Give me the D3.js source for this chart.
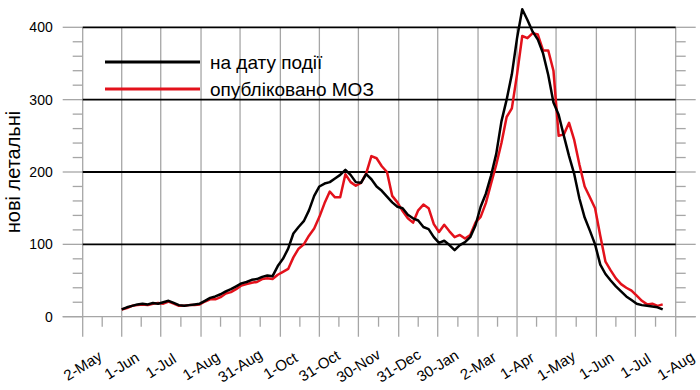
<!DOCTYPE html>
<html>
<head>
<meta charset="utf-8">
<script src="https://cdn.jsdelivr.net/npm/d3@7"></script>
<style>
  body { margin: 0; background: #fff; }
  text { font-family: "Liberation Sans", Arial, sans-serif; fill: #000; }
</style>
</head>
<body>
<div id="chart"></div>
<script>
// chart size
var svgWidth = 700;
var svgHeight = 390;

var margin = { top: 27.3, right: 24.3, bottom: 73.3, left: 82.7 };

var chartWidth = svgWidth - margin.left - margin.right;
var chartHeight = svgHeight - margin.top - margin.bottom;

// data: one value every 4 days, starting 1 Jun 2020
var startDate = "2020-06-01";
var stepDays = 4;

// на дату події
var byEventDate = [10, 13, 15, 17, 18, 17, 19, 18, 20, 22,
  19, 16, 15, 16, 17, 18, 22, 26, 28, 31,
  35, 38, 42, 46, 48, 51, 52, 55, 57, 56,
  70, 80, 94, 115, 124, 132, 147, 167, 180, 184,
  186, 191, 196, 203, 196, 186, 185, 197, 190, 180,
  174, 166, 158, 152, 150, 141, 136, 133, 124, 121,
  110, 102, 105, 99, 92, 99, 103, 110, 126, 152,
  170, 195, 225, 270, 300, 335, 385, 425, 410, 394,
  383, 364, 334, 296, 279, 250, 222, 197, 163, 137,
  119, 100, 72, 59, 50, 42, 35, 28, 23, 18,
  16, 15, 14, 13, 10];

// опубліковано МОЗ
var publishedMoh = [10, 12, 15, 16, 17, 16, 18, 19, 18, 21,
  18, 15, 15, 16, 16, 17, 21, 24, 24, 27,
  32, 34, 38, 43, 45, 47, 48, 52, 53, 52,
  58, 62, 66, 82, 94, 100, 112, 122, 138, 157,
  173, 165, 165, 197, 186, 181, 185, 198, 222, 219,
  208, 200, 167, 158, 146, 136, 130, 147, 155, 150,
  128, 117, 127, 118, 110, 113, 108, 113, 130, 138,
  157, 184, 210, 240, 276, 288, 335, 388, 385, 392,
  390, 368, 368, 340, 250, 252, 268, 244, 210, 180,
  165, 150, 112, 76, 64, 53, 45, 40, 36, 29,
  22, 17, 18, 15, 17];

var xTickLabels = ["2-May", "1-Jun", "1-Jul", "1-Aug", "31-Aug", "1-Oct", "31-Oct", "30-Nov",
  "31-Dec", "30-Jan", "2-Mar", "1-Apr", "1-May", "1-Jun", "1-Jul", "1-Aug"];
var xTickDates = ["2020-05-02", "2020-06-01", "2020-07-01", "2020-08-01", "2020-08-31", "2020-10-01",
  "2020-10-31", "2020-11-30", "2020-12-31", "2021-01-30", "2021-03-02", "2021-04-01",
  "2021-05-01", "2021-06-01", "2021-07-01", "2021-08-01"];
var yTicks = [0, 100, 200, 300, 400];

var seriesNames = ["на дату події", "опубліковано МОЗ"];
var seriesColors = ["#000000", "#e3111b"];

var parseDate = d3.timeParse("%Y-%m-%d");

function CreateChart() {
  var svg = d3.select("#chart")
    .append("svg")
    .attr("width", svgWidth)
    .attr("height", svgHeight);

  var chartGroup = svg.append("g")
    .attr("transform", `translate(${margin.left}, ${margin.top})`);

  var start = parseDate(startDate);
  function toPoints(values) {
    return values.map(function(v, i) {
      return { date: d3.timeDay.offset(start, i * stepDays), value: v };
    });
  }
  var allSeries = [toPoints(byEventDate), toPoints(publishedMoh)];

  var tickDates = xTickDates.map(parseDate);

  // scales
  var xTimeScale = d3.scaleTime()
    .domain([tickDates[0], tickDates[tickDates.length - 1]])
    .range([0, chartWidth]);

  var yLinearScale = d3.scaleLinear()
    .domain([0, 400])
    .range([chartHeight, 0]);

  // minor ticks: midway between the labelled dates
  var minorDates = [];
  for (var i = 0; i < tickDates.length - 1; i++) {
    minorDates.push(new Date((tickDates[i].getTime() + tickDates[i + 1].getTime()) / 2));
  }
  var yMinor = d3.range(0, 401, 20).filter(d => d % 100 !== 0);

  var grey = "#a6a6a6";

  // vertical grid lines, continued below as ticks
  chartGroup.append("g")
    .selectAll("line")
    .data(tickDates)
    .enter()
    .append("line")
    .attr("x1", d => xTimeScale(d))
    .attr("x2", d => xTimeScale(d))
    .attr("y1", 0)
    .attr("y2", chartHeight + 20)
    .attr("stroke", grey)
    .attr("stroke-width", 1.3);

  chartGroup.append("g")
    .selectAll("line")
    .data(minorDates)
    .enter()
    .append("line")
    .attr("x1", d => xTimeScale(d))
    .attr("x2", d => xTimeScale(d))
    .attr("y1", chartHeight)
    .attr("y2", chartHeight + 10)
    .attr("stroke", grey)
    .attr("stroke-width", 1.3);

  // x axis line
  chartGroup.append("line")
    .attr("x1", -20)
    .attr("x2", chartWidth + 20)
    .attr("y1", chartHeight)
    .attr("y2", chartHeight)
    .attr("stroke", grey)
    .attr("stroke-width", 1.3);

  // y ticks, left and right
  [0, chartWidth].forEach(function(x0, side) {
    var dir = side === 0 ? -1 : 1;
    chartGroup.append("g")
      .selectAll("line")
      .data(yTicks)
      .enter()
      .append("line")
      .attr("x1", x0)
      .attr("x2", x0 + dir * 20)
      .attr("y1", d => yLinearScale(d))
      .attr("y2", d => yLinearScale(d))
      .attr("stroke", grey)
      .attr("stroke-width", 1.3);
    chartGroup.append("g")
      .selectAll("line")
      .data(yMinor)
      .enter()
      .append("line")
      .attr("x1", x0)
      .attr("x2", x0 + dir * 10)
      .attr("y1", d => yLinearScale(d))
      .attr("y2", d => yLinearScale(d))
      .attr("stroke", grey)
      .attr("stroke-width", 1.3);
  });

  // horizontal grid lines
  chartGroup.append("g")
    .selectAll("line")
    .data(yTicks.filter(d => d > 0))
    .enter()
    .append("line")
    .attr("x1", 0)
    .attr("x2", chartWidth)
    .attr("y1", d => yLinearScale(d))
    .attr("y2", d => yLinearScale(d))
    .attr("stroke", "#000")
    .attr("stroke-width", 1.8);

  // y tick labels
  chartGroup.append("g")
    .selectAll("text")
    .data(yTicks)
    .enter()
    .append("text")
    .attr("x", -30)
    .attr("y", d => yLinearScale(d))
    .attr("dy", "0.35em")
    .attr("text-anchor", "end")
    .style("font-size", "14px")
    .text(d => d);

  // x tick labels, rotated
  chartGroup.append("g")
    .selectAll("text")
    .data(tickDates)
    .enter()
    .append("text")
    .attr("transform", (d, i) => `translate(${xTimeScale(d)}, ${chartHeight + 49}) rotate(-32)`)
    .attr("text-anchor", "middle")
    .attr("dy", "0.35em")
    .style("font-size", "15px")
    .text((d, i) => xTickLabels[i]);

  // lines: red under black
  var line = d3.line()
    .x(d => xTimeScale(d.date))
    .y(d => yLinearScale(d.value));

  [1, 0].forEach(function(k) {
    chartGroup.append("path")
      .datum(allSeries[k])
      .attr("fill", "none")
      .attr("stroke", seriesColors[k])
      .attr("stroke-width", 2.5)
      .attr("stroke-linejoin", "round")
      .attr("d", line);
  });

  // legend
  var legend = svg.append("g");
  seriesNames.forEach(function(name, k) {
    var ly = 62 + k * 27;
    legend.append("line")
      .attr("x1", 105)
      .attr("x2", 200)
      .attr("y1", ly)
      .attr("y2", ly)
      .attr("stroke", seriesColors[k])
      .attr("stroke-width", 2.8);
    legend.append("text")
      .attr("x", 210)
      .attr("y", ly)
      .attr("dy", "0.35em")
      .style("font-size", "19px")
      .text(name);
  });

  // y axis title
  svg.append("text")
    .attr("transform", "translate(20, 172) rotate(-90)")
    .attr("text-anchor", "middle")
    .style("font-size", "20px")
    .text("нові летальні");
}

CreateChart();
</script>
</body>
</html>
